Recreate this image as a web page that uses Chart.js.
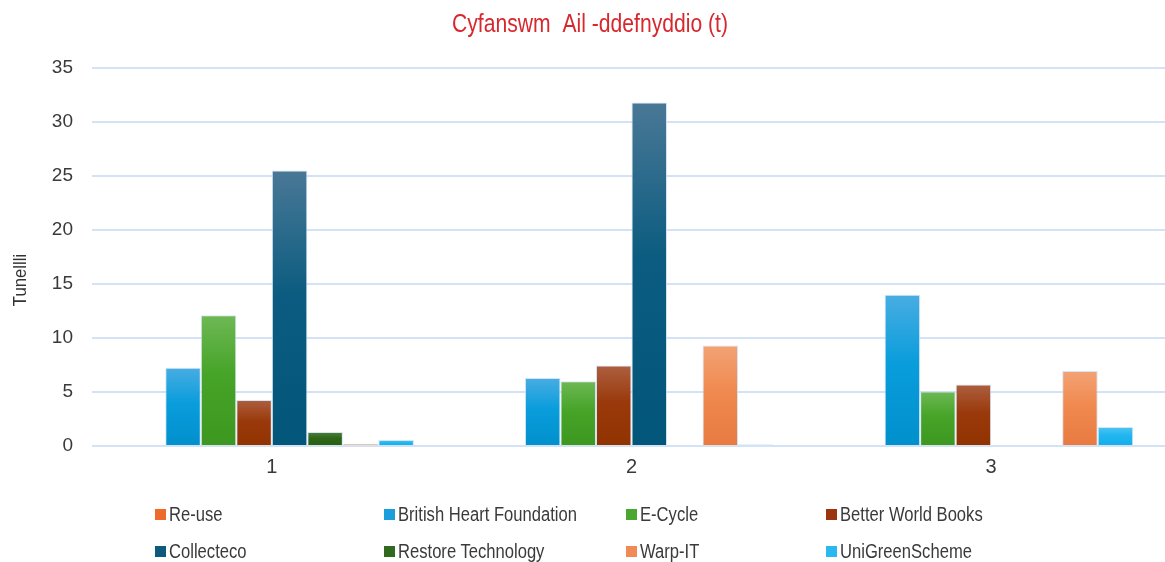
<!DOCTYPE html>
<html>
<head>
<meta charset="utf-8">
<script src="https://cdn.jsdelivr.net/npm/chart.js@4.4.1/dist/chart.umd.min.js"></script>
<style>
  html, body { margin: 0; padding: 0; background: #fff; overflow: hidden; }
  #wrap { position: relative; width: 1165px; height: 562px; overflow: hidden; }
  #c { position: absolute; left: 0; top: 0; }
  .lg { position: absolute; display: flex; align-items: center; white-space: nowrap;
        font-family: "Liberation Sans", Arial, sans-serif;
        font-size: 20px; color: #3a3a3a; }
  .lg i { display: inline-block; width: 11px; height: 11px; margin-right: 3px; }
  .lg span { display: inline-block; transform: scaleX(0.83); transform-origin: 0 50%; }
</style>
</head>
<body>
<div id="wrap">
  <canvas id="c" width="1172" height="562"></canvas>
</div>
<script>
const FONT = '"Liberation Sans", Arial, sans-serif';

const chartTitle = 'Cyfanswm  Ail -ddefnyddio (t)';
const yTitle = 'Tunellli';
const categories = ['1', '2', '3'];
const seriesNames = ['Re-use', 'British Heart Foundation', 'E-Cycle', 'Better World Books',
                     'Collecteco', 'Restore Technology', 'Warp-IT', 'UniGreenScheme'];
const reuse      = [0, 0, 0];
const bhf        = [7.25, 6.3, 14.0];
const ecycle     = [12.1, 6.0, 5.05];
const bwb        = [4.26, 7.45, 5.7];
const collecteco = [25.5, 31.8, 0];
const restore    = [1.3, 0, 0];
const warpit     = [0.2, 9.3, 6.95];
const unigreen   = [0.55, 0.15, 1.75];
const seriesValues = [reuse, bhf, ecycle, bwb, collecteco, restore, warpit, unigreen];

// [top light, base, bottom dark, legend]
const palette = [
  ['#f59060', '#ee6a2a', '#e05e20', '#ee6a2a'],
  ['#48ade2', '#0a9ddc', '#0090cc', '#1a9fdc'],
  ['#6eb855', '#46a428', '#3d9720', '#4aa830'],
  ['#ad5f40', '#9a3a0c', '#913200', '#9a3510'],
  ['#4a7896', '#0b5c80', '#02567a', '#0e5a7c'],
  ['#4f7f3e', '#2e6719', '#285e12', '#2f6a1e'],
  ['#f3a275', '#f08a50', '#e87a40', '#f28a55'],
  ['#4cc3f2', '#22b6f0', '#12adea', '#2ab8f0']
];

function barFill(idx) {
  return function(ctx) {
    const chart = ctx.chart;
    const p = palette[idx];
    if (!chart.chartArea || ctx.type !== 'data') return p[1];
    const y = chart.scales.y;
    const top = y.getPixelForValue(ctx.raw);
    const base = y.getPixelForValue(0);
    if (base - top < 1) return p[1];
    const g = chart.ctx.createLinearGradient(0, top, 0, base);
    g.addColorStop(0, p[0]);
    g.addColorStop(0.45, p[1]);
    g.addColorStop(1, p[2]);
    return g;
  };
}

const datasets = seriesNames.map((name, i) => ({
  label: name,
  data: seriesValues[i],
  backgroundColor: barFill(i),
  borderColor: 'rgba(205,225,245,0.85)',
  borderWidth: 1,
  borderSkipped: 'bottom',
  barPercentage: 1.0,
  categoryPercentage: 0.79
}));

const customText = {
  id: 'customText',
  afterDraw(chart) {
    const c = chart.ctx;
    c.save();
    c.fillStyle = '#d8282e';
    c.font = '25px ' + FONT;
    c.textAlign = 'center';
    c.textBaseline = 'alphabetic';
    c.translate(590, 32);
    c.scale(0.845, 1);
    c.fillText(chartTitle, 0, 0);
    c.restore();
    c.save();
    c.fillStyle = '#333333';
    c.font = '19px ' + FONT;
    c.translate(21, 280);
    c.rotate(-Math.PI / 2);
    c.scale(0.88, 1);
    c.textAlign = 'center';
    c.textBaseline = 'middle';
    c.fillText(yTitle, 0, 0);
    c.restore();
  }
};

new Chart(document.getElementById('c'), {
  type: 'bar',
  data: { labels: categories, datasets },
  options: {
    responsive: false,
    animation: false,
    layout: { padding: { top: 68, right: 1, bottom: 0, left: 0 } },
    plugins: {
      legend: { display: false },
      title: { display: false },
      tooltip: { enabled: false }
    },
    scales: {
      x: {
        grid: { display: false, drawTicks: false },
        border: { display: false },
        ticks: { color: '#3a3a3a', font: { family: FONT, size: 20 }, padding: 9 },
        afterFit(s) { s.height = 116; }
      },
      y: {
        min: 0, max: 35,
        ticks: { stepSize: 5, color: '#3a3a3a', font: { family: FONT, size: 19 }, padding: 19 },
        grid: { color: '#d3e2f4', lineWidth: 2, drawTicks: false },
        border: { display: false },
        afterFit(s) { s.width = 92; }
      }
    }
  },
  plugins: [customText]
});

// HTML legend
const legendCols = [155, 384, 626, 826];
const legendRows = [514, 551];
const wrap = document.getElementById('wrap');
seriesNames.forEach((name, i) => {
  const d = document.createElement('div');
  d.className = 'lg';
  d.style.left = legendCols[i % 4] + 'px';
  d.style.top = (legendRows[Math.floor(i / 4)] - 12) + 'px';
  d.style.height = '24px';
  d.innerHTML = '<i style="background:' + palette[i][3] + '"></i><span></span>';
  d.querySelector('span').textContent = name;
  wrap.appendChild(d);
});
</script>
</body>
</html>
